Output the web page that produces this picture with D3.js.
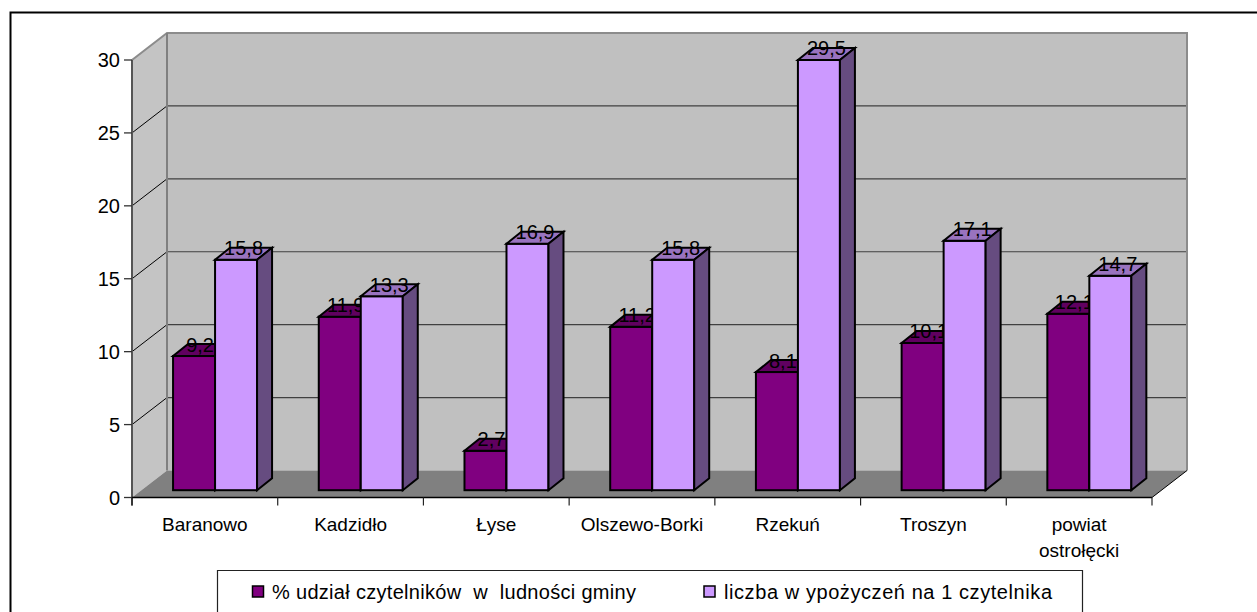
<!DOCTYPE html>
<html><head><meta charset="utf-8">
<script src="https://cdn.jsdelivr.net/npm/d3@7/dist/d3.min.js"></script>
<style>html,body{margin:0;padding:0;background:#fff}svg{display:block}text{font-family:"Liberation Sans",Arial,sans-serif;fill:#000}</style>
</head><body><svg id="c" width="1257" height="612"></svg>
<script>
const categories = ["Baranowo","Kadzidło","Łyse","Olszewo-Borki","Rzekuń","Troszyn",["powiat","ostrołęcki"]];
const categoryKeys = ["a","b","c","d","e","f","g"];
const udzial = [9.2,11.9,2.7,11.2,8.1,10.1,12.1];
const wypozyczenia = [15.8,13.3,16.9,15.8,29.5,17.1,14.7];
const udzialLabels = ["9,2","11,9","2,7","11,2","8,1","10,1","12,1"];
const wypozyczeniaLabels = ["15,8","13,3","16,9","15,8","29,5","17,1","14,7"];
const yTicks = [0,5,10,15,20,25,30];
const legendNames = ["% udział czytelników  w  ludności gminy","liczba w ypożyczeń na 1 czytelnika"];

const svg = d3.select("#c");
const y = d3.scaleLinear().domain([0,30]).range([497.5,60]);
const x = d3.scaleBand().domain(categoryKeys).range([132,1152]);
const DX=35, DY=27, barDX=15, barDY=12, offDX=10.2, offDY=7.3, barW=42;
const x0=x.range()[0], x1=x.range()[1], yB=y(0), yT=y(30);
const pts=a=>a.map(p=>p.join(",")).join(" ");

svg.append("path").attr("d","M10.5 612V12.5H1257").attr("fill","none").attr("stroke","#000").attr("stroke-width",2);
svg.append("polygon").attr("points",pts([[x0,yB],[x0,yT],[x0+DX,yT-DY],[x0+DX,yB-DY]])).attr("fill","#c4c4c4");
svg.append("rect").attr("x",x0+DX).attr("y",yT-DY).attr("width",x1-x0).attr("height",yB-yT).attr("fill","#c0c0c0");
svg.append("polygon").attr("points",pts([[x0,yB],[x1,yB],[x1+DX,yB-DY],[x0+DX,yB-DY]])).attr("fill","#808080");
yTicks.filter(d=>d>0&&d<30).forEach(d=>{
  svg.append("path").attr("d",`M${x0} ${y(d)}L${x0+DX} ${y(d)-DY}`).attr("stroke","#000").attr("fill","none");
  svg.append("path").attr("d",`M${x0+DX} ${y(d)-DY}H${x1+DX}`).attr("stroke","#404040").attr("stroke-width",1.2).attr("fill","none");
});
svg.append("path").attr("d",`M${x0} ${yT}L${x0+DX} ${yT-DY}H${x1+DX}V${yB-DY}`).attr("fill","none").attr("stroke","#8c8c8c").attr("stroke-width",2);
svg.append("path").attr("d",`M${x0+DX} ${yT-DY}V${yB-DY}`).attr("fill","none").attr("stroke","#808080").attr("stroke-width",2);
svg.append("path").attr("d",`M${x1} ${yB}L${x1+DX} ${yB-DY}`).attr("fill","none").attr("stroke","#000");
svg.append("path").attr("d",`M${x0} ${yT}V${yB+8}`).attr("fill","none").attr("stroke","#555").attr("stroke-width",2);
svg.append("path").attr("d",`M${x0} ${yB}H${x1}`).attr("fill","none").attr("stroke","#000").attr("stroke-width",1.5);

const gy=svg.selectAll("g.yt").data(yTicks).join("g");
gy.append("line").attr("x1",x0-8).attr("x2",x0).attr("y1",d=>y(d)).attr("y2",d=>y(d)).attr("stroke","#333").attr("stroke-width",1.3);
gy.append("text").attr("x",x0-12).attr("y",d=>y(d)+7).attr("text-anchor","end").attr("font-size",20).text(d=>d);
[...categoryKeys.map(k=>x(k)),x1].forEach(v=>svg.append("line").attr("x1",v).attr("x2",v).attr("y1",yB).attr("y2",yB+8).attr("stroke","#222").attr("stroke-width",1.2));
categories.forEach((c,i)=>{
  const cx=x(categoryKeys[i])+x.bandwidth()/2;
  [].concat(c).forEach((line,j)=>svg.append("text").attr("x",cx).attr("y",530.5+j*26).attr("text-anchor","middle").attr("font-size",19).text(line));
});

function bar(left,val,label,cFront,cTop,cSide,labelShift){
  const b=yB-offDY, t=b-(yB-y(val)), r=left+barW;
  const g=svg.append("g").attr("stroke","#000").attr("stroke-width",2).attr("stroke-linejoin","miter");
  g.append("rect").attr("x",left).attr("y",t).attr("width",barW).attr("height",b-t).attr("fill",cFront);
  g.append("polygon").attr("points",pts([[left,t],[left+barDX,t-barDY],[r+barDX,t-barDY],[r,t]])).attr("fill",cTop);
  g.append("polygon").attr("points",pts([[r,t],[r+barDX,t-barDY],[r+barDX,b-barDY],[r,b]])).attr("fill",cSide);
  svg.append("text").attr("x",left+barW/2+labelShift).attr("y",t-4.5).attr("text-anchor","middle").attr("font-size",20).text(label);
}
categoryKeys.forEach((k,i)=>{
  const left=x(k)+offDX+(x.bandwidth()-2*barW)/2;
  bar(left,udzial[i],udzialLabels[i],"#800080","#600060","#400040",6);
  bar(left+barW,wypozyczenia[i],wypozyczeniaLabels[i],"#cc99ff","#9973bf","#664c80",7.5);
});

svg.append("path").attr("d","M217.5 612V570.5H1082.5V612").attr("fill","#fff").attr("stroke","#222").attr("stroke-width",1.2);
[[252.5,"#800080",272,364],[704,"#cc99ff",724,328]].forEach((s,i)=>{
  svg.append("rect").attr("x",s[0]).attr("y",586).attr("width",11).attr("height",11).attr("fill",s[1]).attr("stroke","#000").attr("stroke-width",1.5);
  svg.append("text").attr("x",s[2]).attr("y",598.5).attr("font-size",20).attr("textLength",s[3]).attr("lengthAdjust","spacing").style("white-space","pre").text(legendNames[i]);
});
</script></body></html>
